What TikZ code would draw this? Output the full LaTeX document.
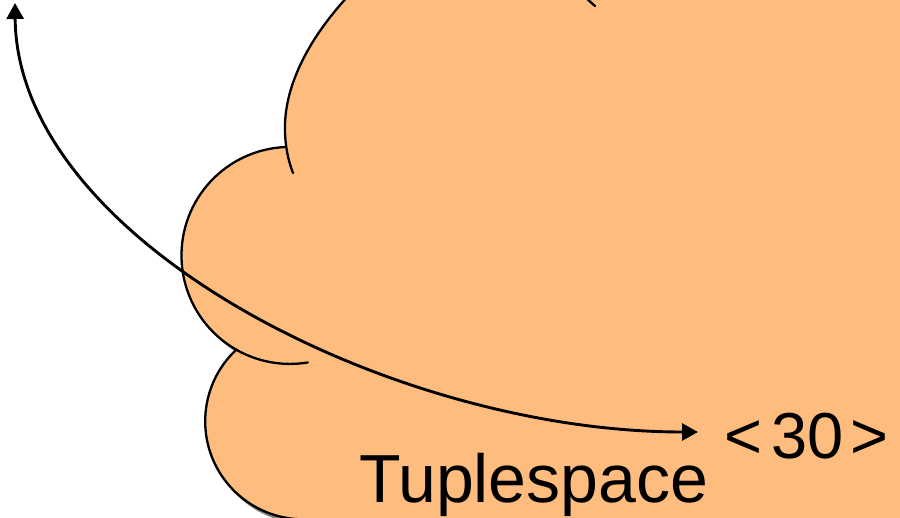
\documentclass[tikz,border=0pt]{standalone}
\usepackage{fontspec}
\setmainfont{Liberation Sans}
\usetikzlibrary{arrows.meta}
\definecolor{cloudfill}{RGB}{254,189,126}
\definecolor{shadowgray}{RGB}{128,128,128}
\begin{document}
\begin{tikzpicture}[x=1pt,y=-1pt,
  outline/.style={line width=2.3pt, line cap=round},
  conn/.style={line width=2.9pt, {Triangle[length=16pt,width=17pt]}-{Triangle[length=16pt,width=17pt]}},
  label/.style={anchor=base west, inner sep=0pt}]
\useasboundingbox (0,0) rectangle (900,517);
\def\cloudpath{(350,-6) .. controls (305,42) and (284,90) .. (285,130) -- (286,147)
  arc[start angle=-92.1, end angle=-240.5, radius=108.5]
  arc[start angle=-132.8, end angle=-270, radius=98]
  -- (910,525) -- (910,-6) -- cycle}
\fill[shadowgray, shift={(3,4)}] \cloudpath;
\fill[cloudfill] \cloudpath;
% outlines
\draw[outline] (350,-6) .. controls (305,42) and (284,90) .. (285,130) .. controls (285,145) and (288,160) .. (293,173);
\draw[outline] (286,147) arc[start angle=-92.1, end angle=-279.5, radius=108.5];
\draw[outline] (236.6,349.4) arc[start angle=-132.8, end angle=-270, radius=98];
\draw[outline] (586,-2) -- (595,6);
% connector
\coordinate (top) at (15,3);
\coordinate (tip) at (698,432);
\draw[conn] (top) .. controls (17,240) and (390,432) .. (tip);
% texts
\node[label, font=\fontsize{68}{68}\selectfont] (ts) at (359,502) {Tuplespace};
\node[label, font=\fontsize{65}{65}\selectfont] (val) at (724,458) {<\kern9pt30\kern7pt>};
\end{tikzpicture}
\end{document}
